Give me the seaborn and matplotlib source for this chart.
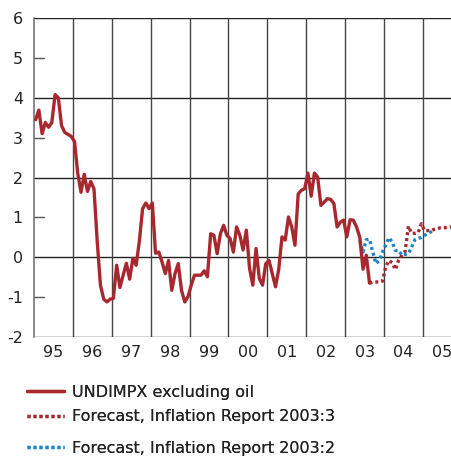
import numpy as np
import pandas as pd
import matplotlib
matplotlib.use("Agg")
import matplotlib.pyplot as plt
import seaborn as sns

# ---- data (monthly, index 0 = Jan 1995) ----
undimpx = [3.45, 3.69, 3.10, 3.38, 3.26, 3.38, 4.08, 4.00, 3.30, 3.13, 3.08, 3.03,
           2.90, 2.10, 1.63, 2.08, 1.65, 1.90, 1.72, 0.40, -0.70, -1.05, -1.12, -1.05,
           -1.03, -0.20, -0.76, -0.45, -0.15, -0.55, -0.03, -0.20, 0.40, 1.22, 1.36, 1.22,
           1.36, 0.10, 0.13, -0.12, -0.41, -0.08, -0.83, -0.41, -0.16, -0.83, -1.12, -0.99,
           -0.70, -0.45, -0.45, -0.45, -0.34, -0.49, 0.59, 0.55, 0.09, 0.59, 0.80, 0.55,
           0.47, 0.13, 0.76, 0.55, 0.18, 0.68, -0.28, -0.70, 0.22, -0.53, -0.70, -0.16,
           -0.08, -0.41, -0.74, -0.30, 0.51, 0.43, 1.01, 0.76, 0.30, 1.59, 1.68, 1.72,
           2.11, 1.53, 2.11, 2.01, 1.30, 1.38, 1.47, 1.45, 1.35, 0.76, 0.88, 0.93,
           0.51, 0.94, 0.93, 0.76, 0.50, -0.30, 0.05, -0.65]
undimpx_start = 0

fc_ir3 = [-0.65, -0.62, -0.62, -0.62, -0.60, -0.24, -0.08, -0.14, -0.31, -0.07, 0.05,
          0.15, 0.78, 0.60, 0.60, 0.62, 0.84, 0.67, 0.67, 0.67, 0.70, 0.72, 0.74, 0.74,
          0.75, 0.76, 0.77, 0.78]
fc_ir3_start = 103

fc_ir2 = [0.42, 0.13, 0.44, 0.45, 0.13, -0.16, -0.08, 0.13, 0.30, 0.49, 0.38, 0.17,
          0.17, 0.05, 0.07, 0.09, 0.26, 0.44, 0.47, 0.50, 0.55, 0.60, 0.64, 0.68]
fc_ir2_start = 100

year_labels = ["95", "96", "97", "98", "99", "00", "01", "02", "03", "04", "05"]
labels = ["UNDIMPX excluding oil", "Forecast, Inflation Report 2003:3",
          "Forecast, Inflation Report 2003:2"]

def to_time(start, n):
    return 1995 + (np.arange(start, start + n) + 0.5) / 12.0

df1 = pd.DataFrame({"t": to_time(undimpx_start, len(undimpx)), "v": undimpx})
df2 = pd.DataFrame({"t": to_time(fc_ir3_start, len(fc_ir3)), "v": fc_ir3})
df3 = pd.DataFrame({"t": to_time(fc_ir2_start, len(fc_ir2)), "v": fc_ir2})

sns.set_style("white")
plt.rcParams["font.family"] = ["DejaVu Sans"]

W, H = 451, 459
fig = plt.figure(figsize=(W / 100, H / 100), dpi=100)
ax = fig.add_axes([34 / W, 1 - 337 / H, 1 - 34 / W, (337 - 18) / H])

red = "#a8282f"
blue = "#1a86c8"
dotted = (0, (0.9, 0.9))

# grid
for yy in [-2, 0, 2, 4, 6]:
    ax.axhline(yy, color="#222222", lw=1.0, zorder=1)
for yr in range(1996, 2007):
    ax.axvline(yr, color="#444444", lw=1.0, zorder=1)

sns.lineplot(data=df1, x="t", y="v", ax=ax, color=red, lw=2.4, label=labels[0], zorder=4)
sns.lineplot(data=df2, x="t", y="v", ax=ax, color=red, lw=2.4, linestyle=dotted,
             label=labels[1], zorder=3)
sns.lineplot(data=df3, x="t", y="v", ax=ax, color=blue, lw=2.4, linestyle=dotted,
             label=labels[2], zorder=3)

ax.set_xlim(1995, 1995 + (W - 34) / 38.9)
ax.set_ylim(-2, 6)
ax.set_xlabel("")
ax.set_ylabel("")

ax.set_yticks(range(-2, 7))
ax.set_yticklabels([str(v) for v in range(-2, 7)], fontsize=11.5, color="#222222")
ax.tick_params(axis="y", length=0, pad=8)
# small tick marks at odd values
for yy in [-1, 1, 3, 5]:
    ax.plot([1995, 1995 + 10 / 38.9], [yy, yy], color="#555555", lw=1.0, zorder=2)

ax.set_xticks([1995.5 + i for i in range(len(year_labels))])
ax.set_xticklabels(year_labels, fontsize=11.5, color="#222222")
ax.tick_params(axis="x", length=0, pad=6)

for s in ["top", "right", "bottom"]:
    ax.spines[s].set_visible(False)
ax.spines["left"].set_color("#777777")
ax.spines["left"].set_linewidth(1.2)

leg = ax.get_legend()
leg.remove()
handles, labs = ax.get_legend_handles_labels()
legend_y = [392, 417, 448]
for h, l, yy in zip(handles, labs, legend_y):
    lg = fig.legend([h], [l], loc="center left", bbox_to_anchor=(27 / W, 1 - yy / H),
                    frameon=False, fontsize=11.5, handlelength=2.3, handletextpad=0.5,
                    borderpad=0, borderaxespad=0, labelcolor="#222222")
    fig.add_artist(lg)

fig.savefig("out.png", dpi=100)
